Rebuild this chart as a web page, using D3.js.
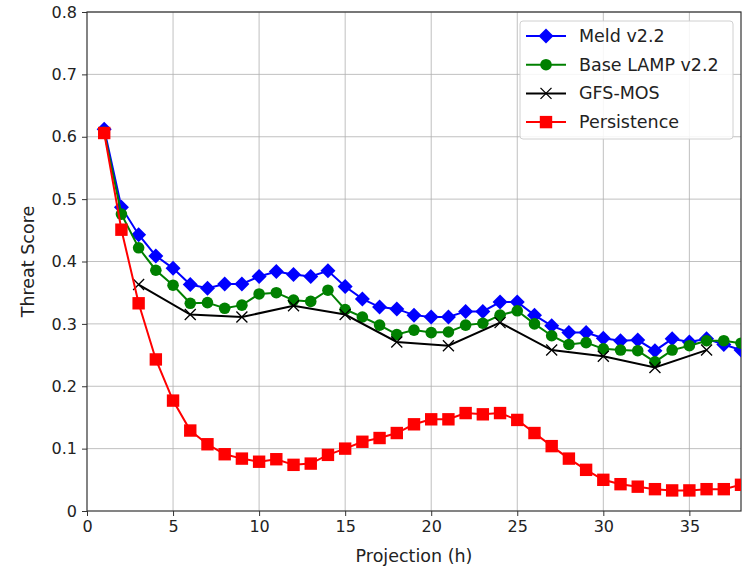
<!DOCTYPE html>
<html>
<head>
<meta charset="utf-8">
<script src="https://cdn.jsdelivr.net/npm/d3@7"></script>
<style>
  body { margin: 0; background: #fff; }
  svg text { font-family: "DejaVu Sans", sans-serif; fill: #222; }
</style>
</head>
<body>
<svg id="chart" width="745" height="568"></svg>
<script>
// hours for each series
const hours = d3.range(1, 39);
const mosHours = [3, 6, 9, 12, 15, 18, 21, 24, 27, 30, 33, 36];

const meld = [0.612, 0.487, 0.443, 0.409, 0.389, 0.363, 0.357, 0.364, 0.364, 0.376,
  0.384, 0.379, 0.376, 0.385, 0.360, 0.340, 0.327, 0.324, 0.314, 0.311,
  0.311, 0.320, 0.320, 0.335, 0.335, 0.314, 0.297, 0.286, 0.286, 0.277,
  0.273, 0.274, 0.257, 0.276, 0.271, 0.276, 0.267, 0.258];
const lamp = [0.607, 0.476, 0.422, 0.386, 0.362, 0.333, 0.334, 0.325, 0.330, 0.348,
  0.350, 0.338, 0.336, 0.354, 0.323, 0.311, 0.298, 0.283, 0.290, 0.286,
  0.287, 0.298, 0.301, 0.314, 0.321, 0.300, 0.281, 0.267, 0.270, 0.260,
  0.258, 0.257, 0.239, 0.258, 0.265, 0.273, 0.273, 0.269];
const gfsMos = [0.363, 0.315, 0.311, 0.329, 0.315, 0.271, 0.265, 0.302, 0.258, 0.248, 0.230, 0.258];
const persistence = [0.606, 0.451, 0.333, 0.243, 0.177, 0.129, 0.107, 0.091, 0.084, 0.079,
  0.083, 0.074, 0.076, 0.090, 0.100, 0.111, 0.117, 0.125, 0.139, 0.147,
  0.147, 0.157, 0.155, 0.157, 0.146, 0.125, 0.104, 0.084, 0.066, 0.050,
  0.043, 0.039, 0.035, 0.033, 0.033, 0.035, 0.035, 0.042];

const xTicks = [0, 5, 10, 15, 20, 25, 30, 35];
const yTicks = [0, 0.1, 0.2, 0.3, 0.4, 0.5, 0.6, 0.7, 0.8];

const series = [
  { name: 'Meld v2.2', color: '#0000ff', marker: 'diamond', xs: hours, ys: meld },
  { name: 'Base LAMP v2.2', color: '#008000', marker: 'circle', xs: hours, ys: lamp },
  { name: 'GFS-MOS', color: '#000000', marker: 'x', xs: mosHours, ys: gfsMos },
  { name: 'Persistence', color: '#ff0000', marker: 'square', xs: hours, ys: persistence }
];

const margin = { left: 87, right: 4, top: 12, bottom: 57 };
const width = 745, height = 568;
const svg = d3.select('#chart');

const x = d3.scaleLinear().domain([0, 38]).range([margin.left, width - margin.right]);
const y = d3.scaleLinear().domain([0, 0.8]).range([height - margin.bottom, margin.top]);

svg.append('clipPath').attr('id', 'plot-clip')
  .append('rect')
  .attr('x', x(0)).attr('y', y(0.8))
  .attr('width', x(38) - x(0)).attr('height', y(0) - y(0.8));

// grid
const grid = svg.append('g');
grid.selectAll('line.vx').data(xTicks.slice(1)).join('line')
  .attr('x1', d => x(d)).attr('x2', d => x(d))
  .attr('y1', y(0)).attr('y2', y(0.8))
  .attr('stroke', '#b0b0b0').attr('stroke-width', 0.8);
grid.selectAll('line.hy').data(yTicks.slice(1)).join('line')
  .attr('y1', d => y(d)).attr('y2', d => y(d))
  .attr('x1', x(0)).attr('x2', x(38))
  .attr('stroke', '#b0b0b0').attr('stroke-width', 0.8);

// axes
const xAxis = svg.append('g')
  .attr('transform', `translate(0,${y(0)})`)
  .call(d3.axisBottom(x).tickValues(xTicks).tickSize(5).tickPadding(5).tickFormat(d3.format('d')));
const yAxis = svg.append('g')
  .attr('transform', `translate(${x(0)},0)`)
  .call(d3.axisLeft(y).tickValues(yTicks).tickSize(5).tickPadding(5).tickFormat(d => d === 0 ? '0' : d3.format('.1f')(d)));
[xAxis, yAxis].forEach(a => {
  a.select('.domain').remove();
  a.selectAll('text').style('font-size', '16px').attr('fill', '#222');
  a.selectAll('line').attr('stroke', '#333');
});

// frame
svg.append('rect')
  .attr('x', x(0)).attr('y', y(0.8))
  .attr('width', x(38) - x(0)).attr('height', y(0) - y(0.8))
  .attr('fill', 'none').attr('stroke', '#333').attr('stroke-width', 1.2);

function drawMarker(g, type, color) {
  if (type === 'diamond') {
    g.append('path').attr('d', 'M0,-7.5L7.5,0L0,7.5L-7.5,0Z').attr('fill', color);
  } else if (type === 'circle') {
    g.append('circle').attr('r', 5.8).attr('fill', color);
  } else if (type === 'square') {
    g.append('rect').attr('x', -6.2).attr('y', -6.2).attr('width', 12.4).attr('height', 12.4).attr('fill', color);
  } else if (type === 'x') {
    g.append('path').attr('d', 'M-5.5,-5.5L5.5,5.5M-5.5,5.5L5.5,-5.5').attr('stroke', color).attr('stroke-width', 1.3);
  }
}

const plot = svg.append('g').attr('clip-path', 'url(#plot-clip)');
const line = d3.line().x(d => x(d[0])).y(d => y(d[1]));

series.forEach(s => {
  const pts = s.xs.map((h, i) => [h, s.ys[i]]);
  const g = plot.append('g');
  g.append('path').datum(pts)
    .attr('d', line).attr('fill', 'none')
    .attr('stroke', s.color).attr('stroke-width', 2);
  pts.forEach(p => {
    const m = g.append('g').attr('transform', `translate(${x(p[0])},${y(p[1])})`);
    drawMarker(m, s.marker, s.color);
  });
});

// axis titles
svg.append('text')
  .attr('x', (x(0) + x(38)) / 2).attr('y', 562)
  .attr('text-anchor', 'middle').style('font-size', '17.5px')
  .text('Projection (h)');
svg.append('text')
  .attr('transform', `translate(34,${(y(0) + y(0.8)) / 2}) rotate(-90)`)
  .attr('text-anchor', 'middle').style('font-size', '17.5px')
  .text('Threat Score');

// legend
const legend = svg.append('g').attr('transform', 'translate(520,21)');
legend.append('rect')
  .attr('width', 213).attr('height', 118).attr('rx', 3)
  .attr('fill', 'rgba(255,255,255,0.85)').attr('stroke', '#d0d0d0');
series.forEach((s, i) => {
  const row = legend.append('g').attr('transform', `translate(0,${15 + i * 28.7})`);
  row.append('line').attr('x1', 6).attr('x2', 46)
    .attr('stroke', s.color).attr('stroke-width', 2);
  drawMarker(row.append('g').attr('transform', 'translate(26,0)'), s.marker, s.color);
  row.append('text').attr('x', 59).attr('y', 6)
    .style('font-size', '17.5px').text(s.name);
});
</script>
</body>
</html>
